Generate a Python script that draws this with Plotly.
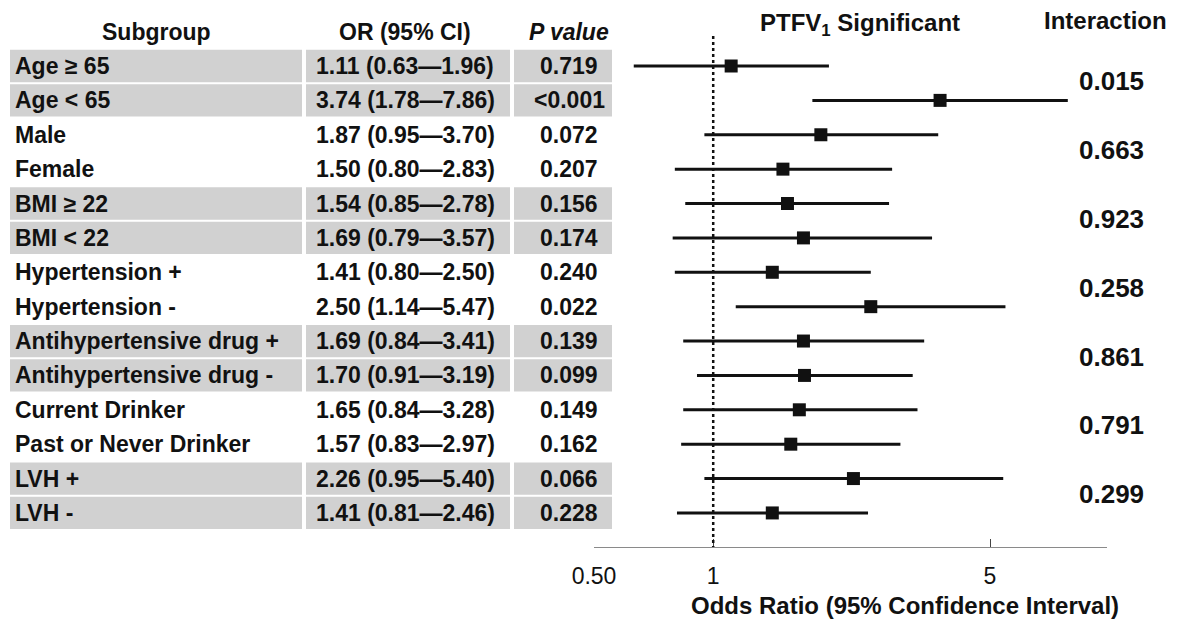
import math
import plotly.graph_objects as go

# ---------------- data ----------------
subgroups = ["Age ≥ 65", "Age < 65", "Male", "Female", "BMI ≥ 22", "BMI < 22",
             "Hypertension +", "Hypertension -", "Antihypertensive drug +",
             "Antihypertensive drug -", "Current Drinker", "Past or Never Drinker",
             "LVH +", "LVH -"]
or_vals = [1.11, 3.74, 1.87, 1.50, 1.54, 1.69, 1.41, 2.50, 1.69, 1.70, 1.65, 1.57, 2.26, 1.41]
ci_low = [0.63, 1.78, 0.95, 0.80, 0.85, 0.79, 0.80, 1.14, 0.84, 0.91, 0.84, 0.83, 0.95, 0.81]
ci_high = [1.96, 7.86, 3.70, 2.83, 2.78, 3.57, 2.50, 5.47, 3.41, 3.19, 3.28, 2.97, 5.40, 2.46]
p_values = ["0.719", "<0.001", "0.072", "0.207", "0.156", "0.174", "0.240", "0.022",
            "0.139", "0.099", "0.149", "0.162", "0.066", "0.228"]
interaction_p = ["0.015", "0.663", "0.923", "0.258", "0.861", "0.791", "0.299"]
tick_vals = [0.5, 1, 5]
tick_text = ["0.50", "1", "5"]

FONT = "Liberation Sans, Arial, Helvetica, sans-serif"
W, H = 1180, 620
OFF = 8  # page body margin
rows = list(range(1, len(subgroups) + 1))


def fx(p):
    """screen pixel x -> paper fraction"""
    return (p - OFF) / W


fig = go.Figure()

# CI lines
xs, ys = [], []
for r, lo, hi in zip(rows, ci_low, ci_high):
    xs += [lo, hi, None]
    ys += [r, r, None]
fig.add_trace(go.Scatter(x=xs, y=ys, mode="lines",
                         line=dict(color="#111111", width=3),
                         hoverinfo="skip", showlegend=False))
# point estimates
fig.add_trace(go.Scatter(x=or_vals, y=rows, mode="markers",
                         marker=dict(symbol="square", size=13, color="#111111"),
                         showlegend=False))

# ---------------- table ----------------
shapes = []
annotations = []
col_bands = [(10, 302), (306, 510), (514, 612)]
for i, r in enumerate(rows):
    if (i // 2) % 2 == 0:
        for x0, x1 in col_bands:
            shapes.append(dict(type="rect", xref="paper", yref="y",
                               x0=fx(x0), x1=fx(x1), y0=r - 0.47, y1=r + 0.47,
                               fillcolor="#d1d1d1", line=dict(width=0), layer="below"))


def txt(x, y, s, size=23, anchor="center", bold=True, italic=False):
    if bold:
        s = "<b>" + s + "</b>"
    if italic:
        s = "<i>" + s + "</i>"
    annotations.append(dict(x=fx(x), y=y, xref="paper", yref="y", text=s,
                            showarrow=False, xanchor=anchor, yanchor="middle",
                            font=dict(family=FONT, size=size, color="#111111")))


# headers
txt(156, 0, "Subgroup")
txt(405, 0, "OR (95% CI)")
txt(569, 0, "P value", italic=True)
txt(860, -0.2, "PTFV<sub>1</sub> Significant", size=24)
txt(1105, -0.32, "Interaction", size=24)

for r, name, o, lo, hi, p in zip(rows, subgroups, or_vals, ci_low, ci_high, p_values):
    txt(13, r, name, anchor="left")
    txt(405, r, f"{o:.2f} ({lo:.2f}—{hi:.2f})")
    txt(569, r, p)

for k, ip in enumerate(interaction_p):
    txt(1111, 2 * k + 1.45, ip, size=26)

# ---------------- axes ----------------
px_per_dec = 396.0
x_left_px, x_right_px = 594, 1107
log_lo = math.log10(0.5)
log_hi = log_lo + (x_right_px - x_left_px) / px_per_dec

axis_px = 547 - OFF
row_pitch = 34.38
row1_px = 66 - OFF
offset = row1_px - row_pitch  # pixel of row 0
y_top = -offset / row_pitch
y_bot = (axis_px - offset) / row_pitch

# axis title
annotations.append(dict(x=fx(905), y=(H - (605 - OFF)) / H, xref="paper", yref="paper",
                        text="<b>Odds Ratio (95% Confidence Interval)</b>", showarrow=False,
                        xanchor="center", yanchor="middle",
                        font=dict(family=FONT, size=24, color="#111111")))

# reference line at OR = 1
shapes.append(dict(type="line", xref="x", yref="y", x0=1, x1=1,
                   y0=(36 - OFF - offset) / row_pitch, y1=y_bot,
                   line=dict(color="#111111", width=2.5, dash="dot")))

fig.update_layout(
    width=W, height=H,
    margin=dict(l=0, r=0, t=0, b=0, autoexpand=False),
    paper_bgcolor="white", plot_bgcolor="white",
    shapes=shapes, annotations=annotations,
    xaxis=dict(type="log", domain=[fx(x_left_px), fx(x_right_px)],
               range=[log_lo, log_hi], tickvals=tick_vals, ticktext=tick_text,
               showgrid=False, zeroline=False, showline=True, linecolor="#8a8a8a",
               linewidth=1, ticks="inside", ticklen=8, tickcolor="#444444",
               tickwidth=1, ticklabelstandoff=8, automargin=False,
               tickfont=dict(family=FONT, size=23, color="#111111"),
               anchor="y"),
    yaxis=dict(domain=[(H - axis_px) / H, 1], range=[y_bot, y_top],
               visible=False, showgrid=False, zeroline=False, automargin=False),
)

fig.write_html("out.html")
